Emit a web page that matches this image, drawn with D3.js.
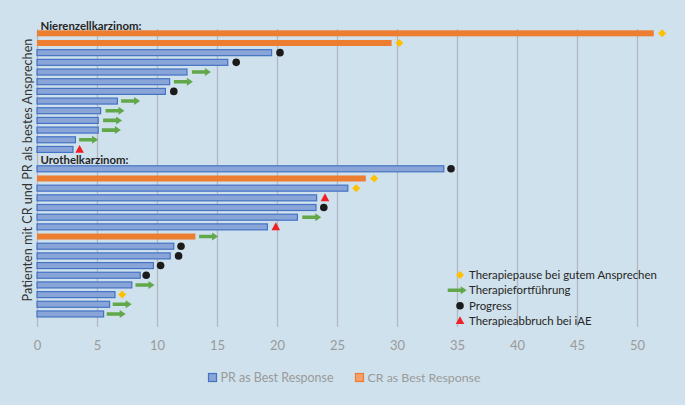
<!DOCTYPE html>
<html><head><meta charset="utf-8">
<script src="https://cdn.jsdelivr.net/npm/d3@7"></script>
<style>
html,body{margin:0;padding:0;background:#cfe1ec;}
svg{display:block;font-family:Lato,"Liberation Sans",Arial,sans-serif;}
</style></head>
<body>
<svg id="chart" width="685" height="405"></svg>
<script>
// ---- data ----
const groupLabels = ["Nierenzellkarzinom:", "Urothelkarzinom:"];
const nierenValues   = [51.4, 29.55, 19.55, 15.9, 12.5, 11.05, 10.7, 6.7, 5.3, 5.1, 5.1, 3.2, 3.0];
const nierenResponse = ["CR","CR","PR","PR","PR","PR","PR","PR","PR","PR","PR","PR","PR"];
const nierenMarker   = ["pause","pause","progress","progress","cont","cont","progress","cont","cont","cont","cont","cont","abort"];
const nierenMarkerAt = [52.1, 30.2, 20.25, 16.6, 13.7, 12.2, 11.4, 7.8, 6.5, 6.3, 6.2, 4.3, 3.55];

const urothelValues   = [33.9, 27.4, 25.9, 23.3, 23.25, 21.7, 19.2, 13.2, 11.4, 11.1, 9.7, 8.6, 7.9, 6.5, 6.05, 5.55];
const urothelResponse = ["PR","CR","PR","PR","PR","PR","PR","CR","PR","PR","PR","PR","PR","PR","PR","PR"];
const urothelMarker   = ["progress","pause","pause","abort","progress","cont","abort","cont","progress","progress","progress","progress","cont","pause","cont","cont"];
const urothelMarkerAt = [34.5, 28.1, 26.6, 24.0, 23.9, 22.9, 19.9, 14.3, 12.0, 11.8, 10.3, 9.1, 9.0, 7.1, 7.1, 6.6];

const xTicks = [0,5,10,15,20,25,30,35,40,45,50];
const markerTypes  = ["pause","cont","progress","abort"];
const markerLabels = ["Therapiepause bei gutem Ansprechen","Therapiefortführung","Progress","Therapieabbruch bei iAE"];
const responseTypes  = ["PR","CR"];
const responseLabels = ["PR as Best Response","CR as Best Response"];
const yTitle = "Patienten mit CR und PR als bestes Ansprechen";

// ---- build rows ----
const rows = [];
rows.push({id:"g0", label:groupLabels[0]});
nierenValues.forEach((v,i)=>rows.push({id:"n"+i, value:v, resp:nierenResponse[i], marker:nierenMarker[i], at:nierenMarkerAt[i]}));
rows.push({id:"g1", label:groupLabels[1]});
urothelValues.forEach((v,i)=>rows.push({id:"u"+i, value:v, resp:urothelResponse[i], marker:urothelMarker[i], at:urothelMarkerAt[i]}));

const svg = d3.select("#chart");
const x = d3.scaleLinear().domain([0,50]).range([37,637]);
const y = d3.scaleBand().domain(rows.map(r=>r.id)).range([18.8,318.8]).paddingInner(0.38).paddingOuter(0.19);
const rowC = id => y(id)+y.bandwidth()/2;
const gridTop = 29, gridBottom = 327;
const FONT = "Lato,Liberation Sans,Arial,sans-serif";

const col = {
  PRfill:"#89a5d8", PRstroke:"#4472c4", CR:"#ed7d31",
  pause:"#ffc000", cont:"#62a84a", progress:"#1b1b1b", abort:"#ee2024",
  grid:"#b0b9c2", tick:"#9a9a9a", text:"#262626"
};

function fit(sel, w){
  sel.each(function(){
    const fs = parseFloat(this.getAttribute("font-size"));
    const len = this.getComputedTextLength();
    this.setAttribute("font-size", (fs*w/len).toFixed(2));
  });
}

// ---- axis / grid ----
const ax = svg.append("g").attr("transform",`translate(0,${gridBottom})`)
  .call(d3.axisBottom(x).tickValues(xTicks).tickSize(-(gridBottom-gridTop)).tickPadding(14));
ax.select(".domain").remove();
ax.selectAll(".tick line").attr("stroke",col.grid).attr("stroke-width",1.3);
ax.selectAll(".tick text").attr("fill",col.tick).attr("font-size",13).attr("font-family",FONT);

// ---- bars ----
const barRows = rows.filter(r=>r.value!==undefined);
svg.append("g").selectAll("rect").data(barRows).join("rect")
  .attr("x",x(0)).attr("y",d=>y(d.id)).attr("height",y.bandwidth())
  .attr("width",d=>x(d.value)-x(0))
  .attr("fill",d=>d.resp==="PR"?col.PRfill:col.CR)
  .attr("stroke",d=>d.resp==="PR"?col.PRstroke:"none")
  .attr("stroke-width",1.2);

// ---- markers ----
function drawMarker(g, type, cx, cy){
  if(type==="pause"){
    g.append("path").attr("d",`M${cx},${cy-4}L${cx+4},${cy}L${cx},${cy+4}L${cx-4},${cy}Z`).attr("fill",col.pause);
  } else if(type==="progress"){
    g.append("circle").attr("cx",cx).attr("cy",cy).attr("r",3.8).attr("fill",col.progress);
  } else if(type==="abort"){
    g.append("path").attr("d",`M${cx},${cy-4.5}L${cx+4.3},${cy+3.3}L${cx-4.3},${cy+3.3}Z`).attr("fill",col.abort);
  } else if(type==="cont"){
    const L=19, h=6, s=1.8, x0=cx-L/2, x1=cx+L/2;
    g.append("path").attr("d",`M${x0},${cy-s}L${x1-h},${cy-s}L${x1-h},${cy-4}L${x1},${cy}L${x1-h},${cy+4}L${x1-h},${cy+s}L${x0},${cy+s}Z`).attr("fill",col.cont);
  }
}
const mg = svg.append("g");
barRows.forEach(r=>drawMarker(mg, r.marker, x(r.at), rowC(r.id)));

// ---- group labels ----
const labelW = {"g0":101, "g1":88};
svg.append("g").selectAll("text").data(rows.filter(r=>r.label)).join("text")
  .attr("x",40.5).attr("y",d=>rowC(d.id)+(d.id==="g0"?6.2:5.2))
  .attr("font-size",12).attr("font-weight","bold").attr("fill",col.text)
  .text(d=>d.label)
  .each(function(d){ fit(d3.select(this), labelW[d.id]); });

// ---- y title ----
svg.append("text").attr("transform","translate(31.5,170) rotate(-90)")
  .attr("text-anchor","middle").attr("font-size",13).attr("fill","#333")
  .text(yTitle).call(fit, 263);

// ---- marker legend ----
const lg = svg.append("g");
const legY = [275, 290.3, 305.7, 320.7];
markerTypes.forEach((t,i)=>{
  drawMarker(lg, t, t==="cont"?457.2:460, legY[i]);
  const tx = lg.append("text").attr("x",469).attr("y",legY[i]+4).attr("font-size",12).attr("fill",col.text).text(markerLabels[i]);
  if(i===0) fit(tx,188);
});
const fsLeg = lg.select("text").attr("font-size");
lg.selectAll("text").attr("font-size",fsLeg);

// ---- response legend ----
const rl = svg.append("g");
const rlX = [208.5, 355.5];
responseTypes.forEach((t,i)=>{
  rl.append("rect").attr("x",rlX[i]).attr("y",373.5).attr("width",8).attr("height",8)
    .attr("fill",t==="PR"?col.PRfill:"#f3a06a").attr("stroke",t==="PR"?col.PRstroke:col.CR).attr("stroke-width",1.2);
  const tx = rl.append("text").attr("x",rlX[i]+12).attr("y",381.8).attr("font-size",13).attr("fill","#9a9a9a").text(responseLabels[i]);
  fit(tx,113);
});
</script>
</body></html>
